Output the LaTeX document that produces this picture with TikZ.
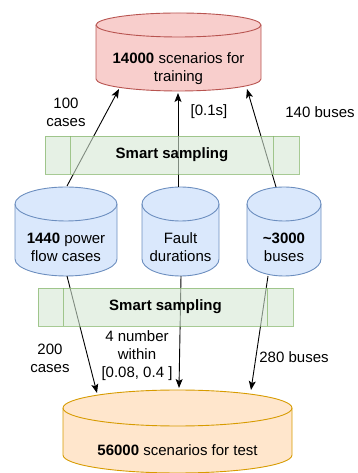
\documentclass[tikz,border=0pt]{standalone}
\usepackage{fontspec}
\setmainfont{Liberation Sans}
\usetikzlibrary{arrows.meta}
\definecolor{redF}{HTML}{F8CECC}\definecolor{redS}{HTML}{B85450}
\definecolor{bluF}{HTML}{DAE8FC}\definecolor{bluS}{HTML}{6C8EBF}
\definecolor{orF}{HTML}{FFE6CC}\definecolor{orS}{HTML}{D79B00}
\definecolor{grF}{HTML}{D5E8D4}\definecolor{grS}{HTML}{82B366}
\newcommand{\cylshape}[6]{%
  \pgfmathsetmacro\crx{(#3-#2)/2}%
  \draw[#1] (#2,#4) -- (#2,#5) arc[start angle=180,end angle=360,x radius=\crx pt,y radius=#6pt]
    -- (#3,#4) arc[start angle=0,end angle=180,x radius=\crx pt,y radius=#6pt] -- cycle;
  \draw[#1,fill=none] (#2,#4) arc[start angle=180,end angle=360,x radius=\crx pt,y radius=#6pt];
}
\begin{document}
\begin{tikzpicture}[x=1pt,y=1pt,
  txt/.style={font=\fontsize{15}{18}\selectfont,align=center,inner sep=0pt},
  redcyl/.style={fill=redF,draw=redS,line width=0.9pt},
  blucyl/.style={fill=bluF,draw=bluS,line width=0.9pt},
  orcyl/.style={fill=orF,draw=orS,line width=0.9pt},
  sampbox/.style={fill=grF,draw=grS,fill opacity=0.6,draw opacity=0.7,line width=0.9pt,minimum height=38pt,inner sep=0pt},
  conn/.style={line width=0.9pt,-{Stealth[length=9pt,width=7pt,inset=2pt]}}]
\useasboundingbox (0,0) rectangle (357,473);
% cylinders
\cylshape{redcyl}{96}{261}{448}{394}{12}
\cylshape{blucyl}{15}{117}{269}{214}{17}
\cylshape{blucyl}{142}{219}{269}{214}{17}
\cylshape{blucyl}{247}{321}{269}{214}{17}
\cylshape{orcyl}{63}{292}{65}{18}{18}
\node[txt] (train) at (178.5,404.5) {\textbf{14000} scenarios for\\training};
\node[txt] (pf) at (66,225.5) {\textbf{1440} power\\flow cases};
\node[txt] (fd) at (180.5,225.5) {Fault\\durations};
\node[txt] (bus) at (284,225.5) {\textbf{{\char"7E}3000}\\buses};
\node[txt] (test) at (177.5,23) {\textbf{56000} scenarios for test};
% connector endpoints
\coordinate (a1s) at (67,287); \coordinate (a1e) at (119,384);
\coordinate (a2s) at (178,286); \coordinate (a2e) at (178,380);
\coordinate (a3s) at (276,286); \coordinate (a3e) at (247,384);
\coordinate (b1s) at (67,197); \coordinate (b1e) at (97,80);
\coordinate (b2s) at (181,197); \coordinate (b2e) at (179,85);
\coordinate (b3s) at (268,197); \coordinate (b3e) at (251,83);
\draw[conn] (a1s) -- (a1e);
\draw[conn] (a2s) -- (a2e);
\draw[conn] (a3s) -- (a3e);
\draw[conn] (b1s) -- (b1e);
\draw[conn] (b2s) -- (b2e);
\draw[conn] (b3s) -- (b3e);
% sampling boxes
\node[sampbox,minimum width=254pt] (s1) at (172,318) {};
\draw[grS,draw opacity=0.7,line width=0.9pt] (70,337) -- (70,299) (273,337) -- (273,299);
\node[txt] (s1t) at (s1) {\textbf{Smart sampling}};
\node[sampbox,minimum width=255pt] (s2) at (165.5,166) {};
\draw[grS,draw opacity=0.7,line width=0.9pt] (63,185) -- (63,147) (267,185) -- (267,147);
\node[txt] (s2t) at (s2) {\textbf{Smart sampling}};
% labels
\node[txt] (l1) at (66,360.5) {100\\cases};
\node[txt] (l2) at (209,361) {[0.1s]};
\node[txt] (l3) at (320,361) {140 buses};
\node[txt] (l4) at (50,115) {200\\cases};
\node[txt] (l5) at (137,117.5) {4 number\\within\\{[0.08, 0.4 ]}};
\node[txt] (l6) at (294,116) {280 buses};
\end{tikzpicture}
\end{document}
